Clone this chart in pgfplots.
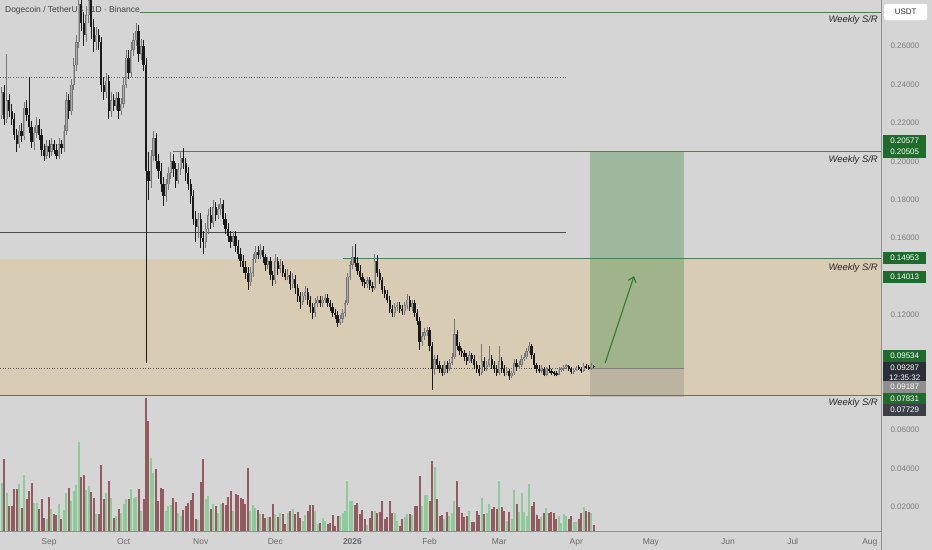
\documentclass[border=0pt]{standalone}
\usepackage{pgfplots}
\pgfplotsset{compat=1.18}
\usepackage{pgfplotstable}
\usetikzlibrary{arrows.meta}
\usepackage{fontspec}
\setmainfont{Liberation Sans}
\definecolor{bgc}{HTML}{D5D5D5}
\definecolor{tanc}{HTML}{D9CCB4}
\definecolor{srgreen}{HTML}{4E7F55}
\definecolor{lblgreen}{HTML}{1F6B2C}
\definecolor{navyc}{HTML}{2A2E39}
\definecolor{lblgray}{HTML}{8E8E8E}
\definecolor{lbldark}{HTML}{3C3F47}
\definecolor{upc}{HTML}{767676}
\definecolor{upin}{HTML}{ABABAB}
\definecolor{dnc}{HTML}{1A1A1A}
\definecolor{volup}{HTML}{8DCB9B}
\definecolor{voldn}{HTML}{935A60}
\definecolor{ticklbl}{HTML}{7C7C7C}
\definecolor{axisc}{HTML}{8F8F8F}
\definecolor{boxgreen}{HTML}{4F8F4F}
\definecolor{arrowc}{HTML}{2E7D32}

\pgfplotstableread{
d o h l c v
-20 0.228 0.232 0.221 0.224 32
-19 0.224 0.239 0.222 0.236 48
-18 0.236 0.240 0.219 0.222 72
-17 0.222 0.256 0.220 0.232 38
-16 0.232 0.235 0.223 0.226 25
-15 0.226 0.230 0.219 0.222 25
-14 0.222 0.225 0.211 0.214 42
-13 0.214 0.217 0.205 0.209 42
-12 0.209 0.219 0.207 0.216 47
-11 0.216 0.220 0.210 0.213 23
-10 0.213 0.231 0.211 0.228 56
-9 0.228 0.232 0.221 0.224 32
-8 0.224 0.244 0.215 0.218 40
-7 0.218 0.221 0.207 0.210 48
-6 0.210 0.218 0.206 0.215 28
-5 0.215 0.223 0.212 0.219 28
-4 0.219 0.222 0.211 0.214 22
-3 0.214 0.217 0.203 0.206 32
-2 0.206 0.209 0.200 0.203 13
-1 0.203 0.211 0.201 0.208 12
0 0.208 0.211 0.202 0.205 34
1 0.205 0.212 0.203 0.209 22
2 0.209 0.211 0.204 0.206 17
3 0.206 0.209 0.201 0.203 16
4 0.203 0.212 0.201 0.209 27
5 0.209 0.211 0.204 0.207 12
6 0.207 0.219 0.205 0.216 21
7 0.216 0.236 0.214 0.232 38
8 0.232 0.235 0.222 0.226 43
9 0.226 0.243 0.224 0.240 30
10 0.240 0.254 0.237 0.250 40
11 0.250 0.266 0.247 0.262 46
12 0.262 0.292 0.259 0.282 89
13 0.282 0.288 0.268 0.272 54
14 0.272 0.278 0.260 0.266 56
15 0.266 0.281 0.262 0.276 41
16 0.276 0.290 0.272 0.284 45
17 0.284 0.287 0.264 0.270 39
18 0.270 0.274 0.257 0.262 33
19 0.262 0.270 0.258 0.266 17
20 0.266 0.269 0.258 0.262 17
21 0.262 0.265 0.236 0.240 66
22 0.240 0.244 0.232 0.236 32
23 0.236 0.246 0.233 0.242 38
24 0.242 0.245 0.222 0.226 50
25 0.226 0.236 0.223 0.232 33
26 0.232 0.235 0.226 0.229 13
27 0.229 0.236 0.227 0.233 15
28 0.233 0.236 0.222 0.226 22
29 0.226 0.233 0.224 0.230 18
30 0.230 0.244 0.228 0.240 27
31 0.240 0.258 0.238 0.254 32
32 0.254 0.258 0.243 0.246 32
33 0.246 0.262 0.244 0.258 42
34 0.258 0.267 0.255 0.263 33
35 0.263 0.272 0.260 0.268 34
36 0.268 0.271 0.252 0.256 42
37 0.256 0.264 0.253 0.260 20
38 0.260 0.263 0.247 0.250 32
39 0.250 0.254 0.095 0.195 133
40 0.195 0.205 0.180 0.190 110
41 0.190 0.206 0.186 0.203 73
42 0.203 0.216 0.200 0.212 58
43 0.212 0.215 0.196 0.200 62
44 0.200 0.204 0.191 0.195 30
45 0.195 0.199 0.184 0.188 43
46 0.188 0.192 0.177 0.182 42
47 0.182 0.191 0.179 0.188 20
48 0.188 0.197 0.185 0.194 25
49 0.194 0.205 0.191 0.200 26
50 0.200 0.204 0.192 0.196 33
51 0.196 0.199 0.186 0.190 29
52 0.190 0.199 0.188 0.196 18
53 0.196 0.205 0.193 0.202 15
54 0.202 0.207 0.196 0.199 21
55 0.199 0.202 0.190 0.194 25
56 0.194 0.197 0.185 0.188 28
57 0.188 0.191 0.178 0.182 31
58 0.182 0.185 0.167 0.170 38
59 0.170 0.174 0.158 0.166 12
60 0.166 0.173 0.160 0.170 11
61 0.170 0.173 0.155 0.160 49
62 0.160 0.164 0.152 0.158 72
63 0.158 0.168 0.155 0.165 32
64 0.165 0.175 0.162 0.172 35
65 0.172 0.176 0.165 0.168 22
66 0.168 0.180 0.166 0.176 27
67 0.176 0.179 0.169 0.172 25
68 0.172 0.178 0.170 0.175 18
69 0.175 0.181 0.172 0.178 27
70 0.178 0.180 0.167 0.170 28
71 0.170 0.173 0.162 0.165 26
72 0.165 0.168 0.158 0.161 34
73 0.161 0.164 0.155 0.158 40
74 0.158 0.164 0.156 0.161 20
75 0.161 0.164 0.153 0.156 37
76 0.156 0.159 0.149 0.152 36
77 0.152 0.155 0.145 0.148 33
78 0.148 0.151 0.142 0.145 32
79 0.145 0.148 0.139 0.142 27
80 0.142 0.145 0.133 0.137 63
81 0.137 0.145 0.135 0.142 20
82 0.142 0.152 0.140 0.149 26
83 0.149 0.156 0.147 0.153 23
84 0.153 0.156 0.149 0.151 21
85 0.151 0.157 0.149 0.154 17
86 0.154 0.156 0.147 0.150 17
87 0.150 0.152 0.143 0.146 13
88 0.146 0.150 0.144 0.148 14
89 0.148 0.150 0.138 0.141 14
90 0.141 0.143 0.135 0.138 27
91 0.138 0.152 0.136 0.148 17
92 0.148 0.150 0.141 0.144 14
93 0.144 0.149 0.142 0.146 18
94 0.146 0.148 0.140 0.142 17
95 0.142 0.144 0.138 0.140 7
96 0.140 0.144 0.138 0.141 18
97 0.141 0.143 0.133 0.136 20
98 0.136 0.142 0.134 0.139 22
99 0.139 0.141 0.131 0.134 17
100 0.134 0.136 0.127 0.130 19
101 0.130 0.132 0.123 0.127 13
102 0.127 0.132 0.125 0.130 10
103 0.130 0.135 0.128 0.132 16
104 0.132 0.134 0.125 0.128 20
105 0.128 0.130 0.121 0.124 26
106 0.124 0.126 0.118 0.121 26
107 0.121 0.129 0.119 0.126 20
108 0.126 0.130 0.124 0.128 7
109 0.128 0.130 0.124 0.126 8
110 0.126 0.130 0.124 0.128 13
111 0.128 0.131 0.126 0.129 10
112 0.129 0.131 0.124 0.126 7
113 0.126 0.128 0.122 0.124 8
114 0.124 0.126 0.119 0.121 16
115 0.121 0.123 0.118 0.120 5
116 0.120 0.122 0.114 0.116 15
117 0.116 0.120 0.115 0.118 15
118 0.118 0.123 0.116 0.121 18
119 0.121 0.128 0.119 0.126 20
120 0.126 0.142 0.125 0.140 50
121 0.140 0.148 0.138 0.146 30
122 0.146 0.156 0.144 0.150 30
123 0.150 0.157 0.145 0.147 26
124 0.147 0.150 0.141 0.143 28
125 0.143 0.146 0.138 0.140 17
126 0.140 0.142 0.135 0.137 21
127 0.137 0.139 0.134 0.136 12
128 0.136 0.140 0.134 0.138 6
129 0.138 0.140 0.133 0.135 13
130 0.135 0.137 0.132 0.134 20
131 0.134 0.152 0.133 0.148 20
132 0.148 0.151 0.140 0.142 18
133 0.142 0.144 0.136 0.138 19
134 0.138 0.140 0.131 0.133 30
135 0.133 0.135 0.129 0.131 12
136 0.131 0.133 0.126 0.128 14
137 0.128 0.130 0.121 0.123 30
138 0.123 0.125 0.119 0.121 18
139 0.121 0.126 0.119 0.124 18
140 0.124 0.127 0.122 0.125 10
141 0.125 0.127 0.121 0.123 5
142 0.123 0.125 0.120 0.122 12
143 0.122 0.127 0.120 0.125 14
144 0.125 0.131 0.123 0.128 17
145 0.128 0.130 0.122 0.124 17
146 0.124 0.128 0.122 0.126 16
147 0.126 0.128 0.119 0.121 25
148 0.121 0.123 0.115 0.117 25
149 0.117 0.119 0.102 0.106 55
150 0.106 0.111 0.104 0.109 25
151 0.109 0.113 0.107 0.111 36
152 0.111 0.114 0.109 0.112 36
153 0.112 0.114 0.101 0.104 30
154 0.104 0.106 0.081 0.092 70
155 0.092 0.099 0.089 0.097 64
156 0.097 0.099 0.092 0.094 32
157 0.094 0.096 0.090 0.092 15
158 0.092 0.094 0.088 0.090 16
159 0.090 0.096 0.089 0.094 12
160 0.094 0.096 0.090 0.092 19
161 0.092 0.097 0.091 0.095 15
162 0.095 0.100 0.094 0.098 18
163 0.098 0.118 0.097 0.110 30
164 0.110 0.112 0.102 0.104 50
165 0.104 0.106 0.099 0.101 24
166 0.101 0.103 0.098 0.100 18
167 0.100 0.102 0.096 0.098 14
168 0.098 0.100 0.094 0.096 15
169 0.096 0.101 0.095 0.099 20
170 0.099 0.100 0.095 0.097 9
171 0.097 0.099 0.092 0.094 9
172 0.094 0.096 0.090 0.092 20
173 0.092 0.094 0.088 0.090 16
174 0.090 0.105 0.089 0.096 33
175 0.096 0.098 0.091 0.093 17
176 0.093 0.096 0.091 0.094 18
177 0.094 0.104 0.093 0.097 27
178 0.097 0.099 0.092 0.094 22
179 0.094 0.096 0.090 0.092 24
180 0.092 0.094 0.088 0.090 22
181 0.090 0.104 0.089 0.096 50
182 0.096 0.098 0.090 0.092 24
183 0.092 0.094 0.088 0.090 20
184 0.090 0.093 0.089 0.091 10
185 0.091 0.092 0.086 0.088 19
186 0.088 0.091 0.087 0.090 12
187 0.090 0.097 0.089 0.095 41
188 0.095 0.097 0.091 0.093 27
189 0.093 0.096 0.092 0.094 19
190 0.094 0.099 0.093 0.097 38
191 0.097 0.100 0.096 0.098 19
192 0.098 0.103 0.097 0.101 15
193 0.101 0.106 0.100 0.104 47
194 0.104 0.105 0.097 0.099 25
195 0.099 0.100 0.092 0.094 29
196 0.094 0.095 0.090 0.092 16
197 0.092 0.094 0.090 0.091 12
198 0.091 0.094 0.090 0.092 14
199 0.092 0.093 0.088 0.089 18
200 0.089 0.093 0.088 0.092 23
201 0.092 0.094 0.090 0.091 18
202 0.091 0.092 0.089 0.090 19
203 0.090 0.091 0.088 0.0895 18
204 0.0895 0.091 0.088 0.089 12
205 0.089 0.093 0.0885 0.0915 15
206 0.0915 0.093 0.0905 0.092 8
207 0.092 0.094 0.091 0.093 17
208 0.093 0.0945 0.092 0.0935 15
209 0.0935 0.094 0.091 0.092 12
210 0.092 0.093 0.0895 0.0905 15
211 0.0905 0.0925 0.0895 0.0915 9
212 0.0915 0.0935 0.091 0.0925 9
213 0.0925 0.094 0.0915 0.092 12
214 0.092 0.093 0.090 0.091 18
215 0.091 0.095 0.0905 0.0935 24
216 0.0935 0.0945 0.092 0.0925 20
217 0.0925 0.094 0.0915 0.092 19
218 0.092 0.095 0.0915 0.0935 18
219 0.0935 0.094 0.0925 0.0929 6
}\candles

\begin{document}
\begin{tikzpicture}
\fill[bgc] (0bp,-19bp) rectangle (932bp,531bp);

% volume
\begin{axis}[at={(0bp,0bp)}, anchor=south west, scale only axis,
  width=881bp, height=531bp, xmin=-19.7, xmax=334.5, ymin=0, ymax=531,
  hide axis]
\addplot[ycomb, mark=none, line width=2bp, draw=volup]
  table[x=d, y expr={\thisrow{c}>=\thisrow{o} ? \thisrow{v} : nan}] {\candles};
\addplot[ycomb, mark=none, line width=2bp, draw=voldn]
  table[x=d, y expr={\thisrow{c}<\thisrow{o} ? \thisrow{v} : nan}] {\candles};
\end{axis}

% price
\begin{axis}[at={(0bp,0bp)}, anchor=south west, scale only axis,
  width=881bp, height=531bp,
  xmin=-19.7, xmax=334.5, ymin=0.0075, ymax=0.28406,
  axis x line*=bottom, axis y line*=right,
  axis line style={draw=axisc, line width=0.6bp},
  major tick length=0pt,
  clip mode=individual,
  xtick={0,30,61,91,122,153,181,212,242,273,299,330},
  xticklabels={Sep,Oct,Nov,Dec,\textbf{2026},Feb,Mar,Apr,May,Jun,Jul,Aug},
  xticklabel style={font=\fontsize{8.5}{9}\selectfont, text=ticklbl!85!black, anchor=base, yshift=-13bp},
  ytick={0.02,0.04,0.06,0.12,0.16,0.18,0.20,0.22,0.24,0.26},
  /pgf/number format/assume math mode=true,
  yticklabel style={font=\fontsize{8}{9}\selectfont, text=ticklbl, anchor=west, xshift=6bp,
    /pgf/number format/.cd, fixed, fixed zerofill, precision=5},
]
% shaded zone
\fill[tanc] (axis cs:-19.7,0.0783) rectangle (axis cs:334.5,0.1490);
% long position box
\fill[boxgreen, opacity=0.4] (axis cs:217.5,0.0924) rectangle (axis cs:255.3,0.2056);
\fill[black!55, opacity=0.28] (axis cs:217.5,0.0773) rectangle (axis cs:255.3,0.0924);
\draw[gray, line width=0.8bp] (axis cs:217.5,0.0924) -- (axis cs:255.3,0.0924);
% title
\node[anchor=west, inner sep=0pt, text=black!75, font=\fontsize{8.5}{9}\selectfont]
  at (axis cs:-17.7,0.2789) {Dogecoin / TetherUS · 1D · Binance};
% levels
\draw[srgreen, line width=0.8bp] (axis cs:36.6,0.2778) -- (axis cs:334.5,0.2778);
\draw[black!60, line width=0.6bp, dotted] (axis cs:-19.7,0.2440) -- (axis cs:207.9,0.2440);
\draw[srgreen, line width=0.8bp] (axis cs:49.9,0.2054) -- (axis cs:334.5,0.2054);
\draw[black!70, line width=0.8bp] (axis cs:-19.7,0.1632) -- (axis cs:207.9,0.1632);
\draw[srgreen, line width=0.8bp] (axis cs:118.2,0.14953) -- (axis cs:334.5,0.14953);
\draw[black!65, line width=0.6bp, dotted] (axis cs:-19.7,0.0924) -- (axis cs:217.5,0.0924);
\draw[srgreen, line width=0.8bp] (axis cs:-19.7,0.0783) -- (axis cs:334.5,0.0783);
% candles: wicks
\addplot[draw=none, mark=none, forget plot, error bars/.cd, y dir=plus, y explicit,
  error mark=none, error bar style={line width=0.8bp, draw=upc}]
  table[x=d, y expr={\thisrow{c}>=\thisrow{o} ? \thisrow{l} : nan},
  y error plus expr={\thisrow{h}-\thisrow{l}}] {\candles};
\addplot[draw=none, mark=none, forget plot, error bars/.cd, y dir=plus, y explicit,
  error mark=none, error bar style={line width=0.8bp, draw=dnc}]
  table[x=d, y expr={\thisrow{c}<\thisrow{o} ? \thisrow{l} : nan},
  y error plus expr={\thisrow{h}-\thisrow{l}}] {\candles};
% candles: bodies
\addplot[draw=none, mark=none, forget plot, error bars/.cd, y dir=plus, y explicit,
  error mark=none, error bar style={line width=2.3bp, draw=upc}]
  table[x=d, y expr={\thisrow{c}>=\thisrow{o} ? \thisrow{o} : nan},
  y error plus expr={max(\thisrow{c}-\thisrow{o},0.0007)}] {\candles};
\addplot[draw=none, mark=none, forget plot, error bars/.cd, y dir=plus, y explicit,
  error mark=none, error bar style={line width=1.0bp, draw=upin}]
  table[x=d, y expr={\thisrow{c}>=\thisrow{o} ? \thisrow{o}+0.0003 : nan},
  y error plus expr={max(\thisrow{c}-\thisrow{o}-0.0006,0.0001)}] {\candles};
\addplot[draw=none, mark=none, forget plot, error bars/.cd, y dir=plus, y explicit,
  error mark=none, error bar style={line width=2.3bp, draw=dnc}]
  table[x=d, y expr={\thisrow{c}<\thisrow{o} ? \thisrow{c} : nan},
  y error plus expr={max(\thisrow{o}-\thisrow{c},0.0007)}] {\candles};
% arrow
\draw[arrowc, line width=1.1bp, -{Straight Barb[length=5bp,width=8bp]}]
  (axis cs:223.6,0.0950) -- (axis cs:235.2,0.1403);
% Weekly S/R labels
\node[anchor=east, inner sep=0pt, text=black!85, font=\fontsize{9.5}{10}\selectfont\itshape]
  at (axis cs:333.3,0.2736) {Weekly S/R};
\node[anchor=east, inner sep=0pt, text=black!85, font=\fontsize{9.5}{10}\selectfont\itshape]
  at (axis cs:333.3,0.2007) {Weekly S/R};
\node[anchor=east, inner sep=0pt, text=black!85, font=\fontsize{9.5}{10}\selectfont\itshape]
  at (axis cs:333.3,0.1445) {Weekly S/R};
\node[anchor=east, inner sep=0pt, text=black!85, font=\fontsize{9.5}{10}\selectfont\itshape]
  at (axis cs:333.3,0.0742) {Weekly S/R};
% price labels
\node[anchor=west, inner sep=0pt, minimum width=43bp, minimum height=11.5bp, text=white, font=\fontsize{8}{8}\selectfont, xshift=2bp, fill=lblgreen] at (axis cs:334.5,0.21063) {0.20577};
\node[anchor=west, inner sep=0pt, minimum width=43bp, minimum height=11.5bp, text=white, font=\fontsize{8}{8}\selectfont, xshift=2bp, fill=lblgreen] at (axis cs:334.5,0.20490) {0.20505};
\node[anchor=west, inner sep=0pt, minimum width=43bp, minimum height=11.5bp, text=white, font=\fontsize{8}{8}\selectfont, xshift=2bp, fill=lblgreen] at (axis cs:334.5,0.14969) {0.14953};
\node[anchor=west, inner sep=0pt, minimum width=43bp, minimum height=11.5bp, text=white, font=\fontsize{8}{8}\selectfont, xshift=2bp, fill=lblgreen] at (axis cs:334.5,0.13979) {0.14013};
\node[anchor=west, inner sep=0pt, minimum width=43bp, minimum height=11.5bp, text=white, font=\fontsize{8}{8}\selectfont, xshift=2bp, fill=lblgreen] at (axis cs:334.5,0.09865) {0.09534};
\node[anchor=west, inner sep=0pt, minimum width=43bp, minimum height=22bp, text=white, font=\fontsize{8}{10}\selectfont, xshift=2bp, fill=navyc, align=center] at (axis cs:334.5,0.09005) {0.09287\\12:35:32};
\node[anchor=west, inner sep=0pt, minimum width=43bp, minimum height=11.5bp, text=white, font=\fontsize{8}{8}\selectfont, xshift=2bp, fill=lblgray] at (axis cs:334.5,0.08250) {0.09187};
\node[anchor=west, inner sep=0pt, minimum width=43bp, minimum height=11.5bp, text=white, font=\fontsize{8}{8}\selectfont, xshift=2bp, fill=lblgreen] at (axis cs:334.5,0.07625) {0.07831};
\node[anchor=west, inner sep=0pt, minimum width=43bp, minimum height=11.5bp, text=white, font=\fontsize{8}{8}\selectfont, xshift=2bp, fill=lbldark] at (axis cs:334.5,0.07052) {0.07729};
\node[anchor=west, fill=white, rounded corners=2bp, minimum width=43bp, minimum height=16bp,
  inner sep=0pt, font=\fontsize{8}{8}\selectfont, text=black!85, xshift=3bp]
  at (axis cs:334.5,0.2778) {USDT};
\end{axis}
\draw[axisc, line width=0.6bp] (881bp,-19bp) -- (881bp,0bp);
\pgfresetboundingbox
\useasboundingbox (0bp,-19bp) rectangle (932bp,531bp);
\end{tikzpicture}
\end{document}
